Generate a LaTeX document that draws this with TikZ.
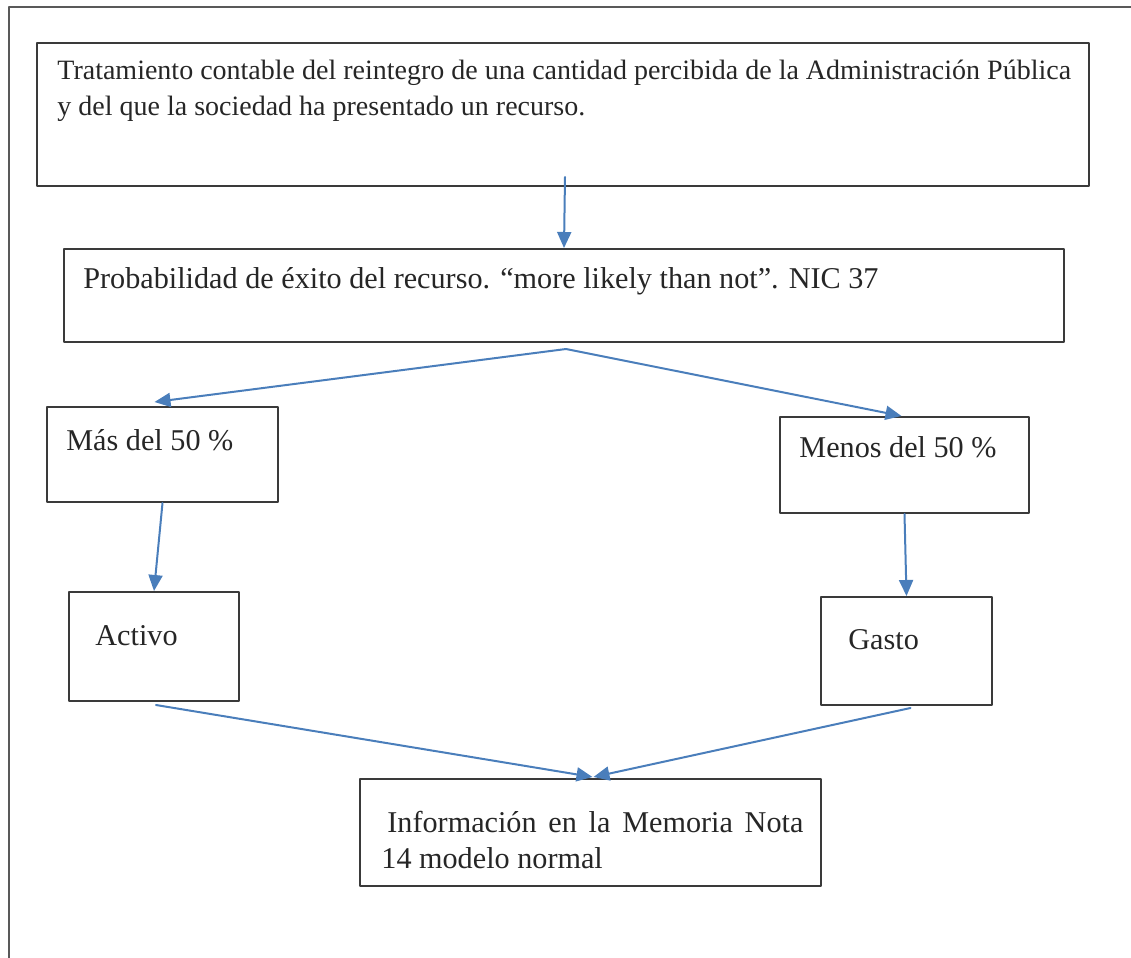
\documentclass[tikz,border=0pt]{standalone}
\usepackage{fontspec}
\setmainfont{Liberation Serif}
\usetikzlibrary{arrows.meta,calc,positioning}
\definecolor{flowblue}{HTML}{4A7EBB}
\definecolor{boxgray}{HTML}{3A3A3A}
\tikzset{
  every picture/.append style={line cap=round,line join=round},
  flow box/.style={draw=boxgray,line width=1pt,anchor=north west,inner sep=0pt},
  flow text/.style={anchor=base west,inner sep=0pt,font=\fontsize{15.1}{18}\selectfont,text=black!85},
  flow title/.style={flow text,font=\fontsize{14}{18}\selectfont},
  flow arrow/.style={flowblue,line width=1pt,-{Triangle[length=8pt,width=7pt]}}
}

\begin{document}
\begin{tikzpicture}[x=0.5pt,y=-0.5pt]
  \useasboundingbox (0,0) rectangle (1131,958);
  % outer frame
  \draw[black!65,line width=1pt] (9,980) -- (9,7) -- (1150,7);

  % boxes
  \node[flow box,minimum width=526pt,minimum height=71.5pt] (tratamiento) at (36,42) {};
  \node[flow box,minimum width=500pt,minimum height=46.5pt] (prob) at (63,248) {};
  \node[flow box,minimum width=115.5pt,minimum height=47.5pt] (mas) at (46,406) {};
  \node[flow box,minimum width=124.5pt,minimum height=48pt] (menos) at (779,416) {};
  \node[flow box,minimum width=85pt,minimum height=54.5pt] (activo) at (68,591) {};
  \node[flow box,minimum width=85.5pt,minimum height=54pt] (gasto) at (820,596) {};
  \node[flow box,minimum width=230.5pt,minimum height=53.5pt] (info) at (359,778) {};

  % texts
  \node[flow title] (tratamientoA) at (57,79) {Tratamiento contable del reintegro de una cantidad percibida de la Administración Pública};
  \node[flow title] (tratamientoB) at (57,115) {y del que la sociedad ha presentado un recurso.};
  \node[flow text] (probtext) at (83,288) {Probabilidad de éxito del recurso. “more likely than not”. NIC 37};
  \node[flow text] (mastext) at (66,450) {Más del 50 \%};
  \node[flow text] (menostext) at (799,457) {Menos del 50 \%};
  \node[flow text] (activotext) at (95,645) {Activo};
  \node[flow text] (gastotext) at (848,649) {Gasto};
  \node[flow text] (infoA) at (387,832) {\makebox[208pt][s]{Información en la Memoria Nota}};
  \node[flow text] (infoB) at (381,868) {14 modelo normal};

  % arrows
  \draw[flow arrow] ($(tratamiento.south)+(2,-10)$) -- (prob.north);
  \coordinate (split) at ($(prob.south)+(2,6)$);
  \draw[flow arrow] (split) -- ($(mas.north)+(-8,-4)$);
  \draw[flow arrow] (split) -- ($(menos.north)+(-3,0)$);
  \draw[flow arrow] (mas.south) -- (activo.north);
  \draw[flow arrow] (menos.south) -- (gasto.north);
  \draw[flow arrow] ($(activo.south)+(2,3)$) -- ($(info.north)+(2,-1)$);
  \draw[flow arrow] ($(gasto.south)+(4,2)$) -- ($(info.north)+(3,-1)$);
\end{tikzpicture}
\end{document}
